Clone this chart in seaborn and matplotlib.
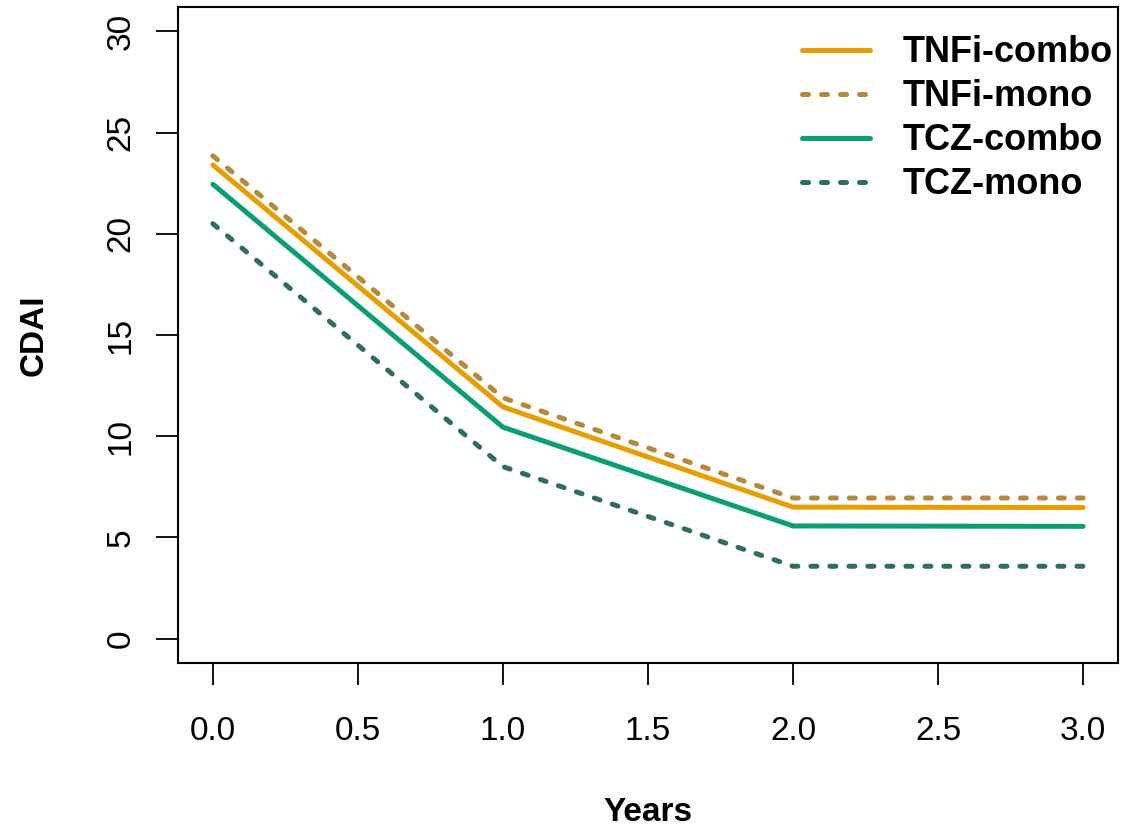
import pandas as pd
import matplotlib.pyplot as plt
import seaborn as sns

# data
years = [0, 1, 2, 3]
tnfi_combo = [23.4, 11.45, 6.5, 6.48]
tnfi_mono = [23.85, 11.9, 6.95, 6.95]
tcz_combo = [22.45, 10.45, 5.57, 5.55]
tcz_mono = [20.5, 8.5, 3.58, 3.58]

series_names = ['TNFi-combo', 'TNFi-mono', 'TCZ-combo', 'TCZ-mono']
series_values = [tnfi_combo, tnfi_mono, tcz_combo, tcz_mono]
colors = ['#E69F00', '#B5893A', '#0A9E74', '#2F6E5A']
dotted = [False, True, False, True]

sns.set_style("white")
plt.rcParams['font.family'] = ['Liberation Sans', 'DejaVu Sans']
plt.rcParams['text.color'] = 'black'
plt.rcParams['axes.labelcolor'] = 'black'

fig = plt.figure(figsize=(11.21, 8.38), dpi=100)
ax = fig.add_axes([0.1588, 0.2088, 0.9973 - 0.1588, 0.9916 - 0.2088])

for name, vals, col, dot in zip(series_names, series_values, colors, dotted):
    df = pd.DataFrame({'Years': years, 'CDAI': vals})
    sns.lineplot(data=df, x='Years', y='CDAI', color=col, linewidth=3.6,
                 ax=ax, label=name)
    line = ax.get_lines()[-1]
    line.set_solid_capstyle('round')
    if dot:
        line.set_dashes((1.2, 2.6))
        line.set_dash_capstyle('round')

ax.set_xlim(-0.12, 3.12)
ax.set_ylim(-1.2, 31.2)
ax.set_xticks([0, 0.5, 1, 1.5, 2, 2.5, 3])
ax.set_xticklabels(['0.0', '0.5', '1.0', '1.5', '2.0', '2.5', '3.0'])
ax.set_yticks([0, 5, 10, 15, 20, 25, 30])
ax.tick_params(axis='both', direction='out', length=16, width=1.3,
               colors='black', labelsize=24, left=True, bottom=True)
ax.tick_params(axis='x', pad=22)
ax.tick_params(axis='y', pad=14)
for lab in ax.get_yticklabels():
    lab.set_rotation(90)
    lab.set_va('center')

for s in ax.spines.values():
    s.set_color('black')
    s.set_linewidth(1.5)

ax.set_xlabel('Years', fontsize=24, fontweight='bold', labelpad=36)
ax.set_ylabel('CDAI', fontsize=24, fontweight='bold', labelpad=40)

leg = ax.legend(loc='upper right', frameon=False,
                prop={'weight': 'bold', 'size': 26},
                handlelength=1.9, handletextpad=0.9, labelspacing=0.25,
                borderaxespad=0.0, bbox_to_anchor=(1.010, 0.979))
for t in leg.get_texts():
    t.set_color('black')

fig.savefig('out.png', dpi=100)
